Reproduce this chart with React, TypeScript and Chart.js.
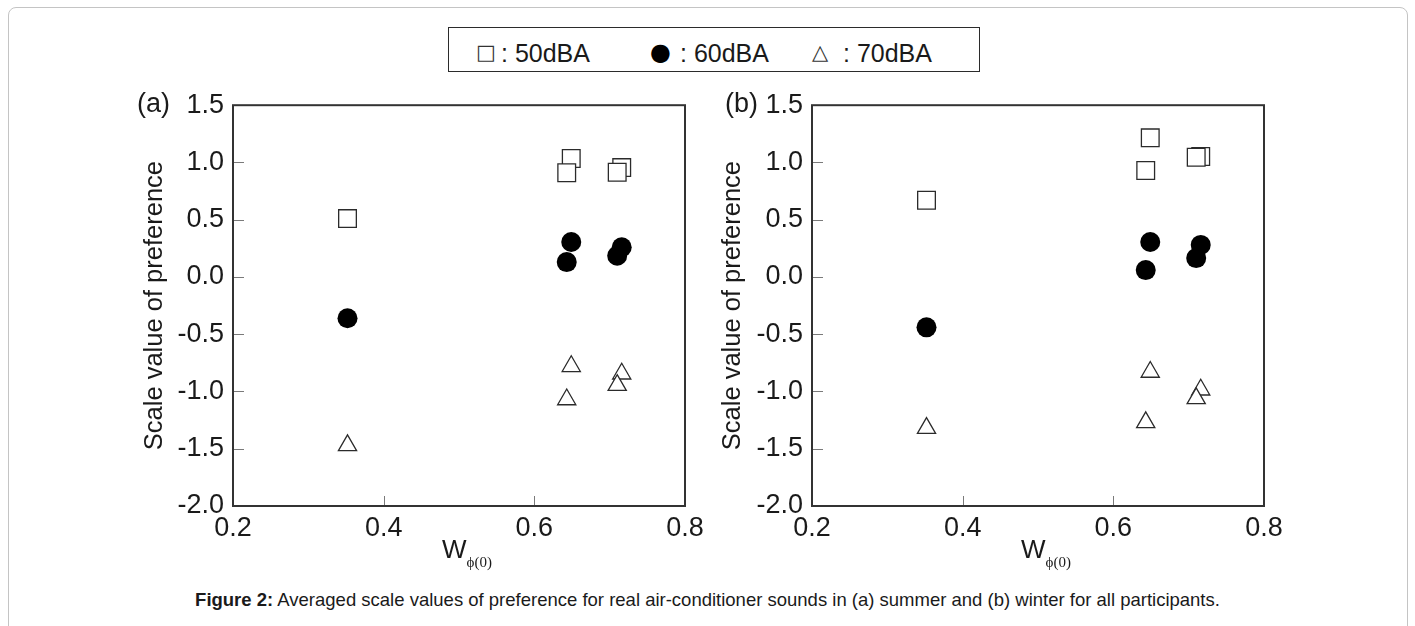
import React, { useEffect, useRef } from "react";
import { Chart, registerables } from "chart.js";

Chart.register(...registerables);

// W_phi(0) values of the five air-conditioner sounds
const wPhi = [0.352, 0.649, 0.643, 0.716, 0.71];

// (a) summer
const summer50 = [0.51, 1.035, 0.91, 0.955, 0.915];
const summer60 = [-0.36, 0.305, 0.13, 0.26, 0.185];
const summer70 = [-1.47, -0.78, -1.07, -0.845, -0.945];

// (b) winter
const winter50 = [0.67, 1.215, 0.93, 1.052, 1.045];
const winter60 = [-0.44, 0.305, 0.06, 0.28, 0.165];
const winter70 = [-1.32, -0.83, -1.27, -0.985, -1.06];

const xTickValues = [0.2, 0.4, 0.6, 0.8];
const yTickValues = [1.5, 1.0, 0.5, 0.0, -0.5, -1.0, -1.5, -2.0];
const legendLabels = ["50dBA", "60dBA", "70dBA"];
const legendGlyphs = ["□", "●", "△"];
const yTitle = "Scale value of preference";
const panelLabels = ["(a)", "(b)"];
const captionBold = "Figure 2:";
const captionText =
  " Averaged scale values of preference for real air-conditioner sounds in (a) summer and (b) winter for all participants.";

const SANS = "'Liberation Sans', Arial, Helvetica, sans-serif";
const SERIF = "'Liberation Serif', 'DejaVu Serif', 'Times New Roman', serif";
const TEXT = "#1a1a1a";
const AXIS = "#333333";

const framePlugin = {
  id: "frameAndInwardTicks",
  afterDraw(chart: any) {
    const { ctx, chartArea } = chart;
    const xs = chart.scales.x;
    const ys = chart.scales.y;
    ctx.save();
    // inward ticks
    ctx.strokeStyle = "#7a7a7a";
    ctx.lineWidth = 1;
    ctx.beginPath();
    for (const v of yTickValues) {
      if (v === ys.max || v === ys.min) continue;
      const py = Math.round(ys.getPixelForValue(v)) + 0.5;
      ctx.moveTo(chartArea.left, py);
      ctx.lineTo(chartArea.left + 11, py);
    }
    for (const v of xTickValues) {
      if (v === xs.max || v === xs.min) continue;
      const px = Math.round(xs.getPixelForValue(v)) + 0.5;
      ctx.moveTo(px, chartArea.bottom);
      ctx.lineTo(px, chartArea.bottom - 10);
    }
    ctx.stroke();
    // box
    ctx.strokeStyle = AXIS;
    ctx.lineWidth = 2;
    ctx.strokeRect(
      chartArea.left,
      chartArea.top,
      chartArea.right - chartArea.left,
      chartArea.bottom - chartArea.top
    );
    ctx.restore();
  },
};

type PanelProps = {
  s50: number[];
  s60: number[];
  s70: number[];
  left: number;
  yAxisWidth: number;
  rightPad: number;
  titlePad: number;
};

function Panel({ s50, s60, s70, left, yAxisWidth, rightPad, titlePad }: PanelProps) {
  const ref = useRef<HTMLCanvasElement>(null);
  useEffect(() => {
    const toPts = (ys: number[]) => wPhi.map((x, i) => ({ x, y: ys[i] }));
    const chart = new Chart(ref.current as HTMLCanvasElement, {
      type: "scatter",
      data: {
        datasets: [
          {
            label: legendLabels[0],
            data: toPts(s50),
            pointStyle: "rect",
            pointRadius: 12.5,
            backgroundColor: "#ffffff",
            borderColor: "#2b2b2b",
            borderWidth: 1.3,
          },
          {
            label: legendLabels[1],
            data: toPts(s60),
            pointStyle: "circle",
            pointRadius: 10,
            backgroundColor: "#000000",
            borderColor: "#000000",
            borderWidth: 0,
          },
          {
            label: legendLabels[2],
            data: toPts(s70),
            pointStyle: "triangle",
            pointRadius: 10.5,
            backgroundColor: "#ffffff",
            borderColor: "#2b2b2b",
            borderWidth: 1.3,
          },
        ],
      },
      options: {
        animation: false,
        responsive: false,
        events: [],
        layout: { padding: { top: 24, right: rightPad, left: 0, bottom: 0 } },
        plugins: { legend: { display: false }, tooltip: { enabled: false } },
        scales: {
          x: {
            type: "linear",
            min: 0.2,
            max: 0.8,
            grid: { display: false, drawTicks: false },
            border: { display: false },
            afterBuildTicks: (s: any) => {
              s.ticks = xTickValues.map((v) => ({ value: v }));
            },
            afterFit: (s: any) => {
              s.height = 74;
            },
            ticks: {
              padding: 6,
              autoSkip: false,
              maxRotation: 0,
              color: TEXT,
              font: { family: SANS, size: 27 },
              callback: (v: any) => Number(v).toFixed(1),
            },
          },
          y: {
            type: "linear",
            min: -2,
            max: 1.5,
            grid: { display: false, drawTicks: false },
            border: { display: false },
            afterBuildTicks: (s: any) => {
              s.ticks = yTickValues.map((v) => ({ value: v }));
            },
            afterFit: (s: any) => {
              s.width = yAxisWidth;
            },
            ticks: {
              padding: 9,
              autoSkip: false,
              color: TEXT,
              font: { family: SANS, size: 27 },
              callback: (v: any) => Number(v).toFixed(1),
            },
            title: {
              display: true,
              text: yTitle,
              color: TEXT,
              font: { family: SANS, size: 25.5 },
              padding: { top: titlePad, bottom: 0 },
            },
          },
        },
      },
      plugins: [framePlugin],
    } as any);
    return () => chart.destroy();
  }, []);
  return (
    <canvas
      ref={ref}
      width={600}
      height={500}
      style={{ position: "absolute", left, top: 80, width: 600, height: 500 }}
    />
  );
}

function XTitle({ left }: { left: number }) {
  return (
    <div
      style={{
        position: "absolute",
        left,
        top: 536,
        fontFamily: SANS,
        fontSize: 26,
        lineHeight: "26px",
        color: TEXT,
        whiteSpace: "nowrap",
      }}
    >
      W
      <span style={{ fontFamily: SERIF, fontSize: 15, position: "relative", top: 9 }}>
        ϕ(0)
      </span>
    </div>
  );
}

export default function App() {
  const abs = (extra: any) => ({ position: "absolute" as const, ...extra });
  return (
    <div style={{ position: "relative", width: 1415, height: 626, overflow: "hidden", background: "#fff" }}>
      <style>{`body{margin:0;background:#fff}`}</style>
      {/* outer frame */}
      <div
        style={abs({
          left: 8,
          top: 7,
          width: 1398,
          height: 640,
          border: "1px solid #c4c4c4",
          borderRadius: 8,
        })}
      />
      {/* legend box */}
      <div
        style={abs({
          left: 448,
          top: 27,
          width: 530,
          height: 43,
          border: "1.5px solid #2b2b2b",
        })}
      />
      <span style={abs({ left: 476, top: 40, fontFamily: "'DejaVu Sans'", fontSize: 21, lineHeight: "24px", color: "#333" })}>
        {legendGlyphs[0]}
      </span>
      <span style={abs({ left: 501, top: 41, fontFamily: SANS, fontSize: 25, lineHeight: "25px", color: TEXT, whiteSpace: "pre" })}>
        {": " + legendLabels[0]}
      </span>
      <span style={abs({ left: 650, top: 39, fontFamily: "'DejaVu Sans'", fontSize: 24, lineHeight: "26px", color: "#000" })}>
        {legendGlyphs[1]}
      </span>
      <span style={abs({ left: 680, top: 41, fontFamily: SANS, fontSize: 25, lineHeight: "25px", color: TEXT, whiteSpace: "pre" })}>
        {": " + legendLabels[1]}
      </span>
      <span style={abs({ left: 812, top: 40, fontFamily: "'DejaVu Sans'", fontSize: 21, lineHeight: "24px", color: "#333" })}>
        {legendGlyphs[2]}
      </span>
      <span style={abs({ left: 843, top: 41, fontFamily: SANS, fontSize: 25, lineHeight: "25px", color: TEXT, whiteSpace: "pre" })}>
        {": " + legendLabels[2]}
      </span>

      <Panel s50={summer50} s60={summer60} s70={summer70} left={120} yAxisWidth={113} rightPad={35} titlePad={20} />
      <Panel s50={winter50} s60={winter60} s70={winter70} left={700} yAxisWidth={112} rightPad={36} titlePad={18} />

      <span style={abs({ left: 137, top: 90, fontFamily: SANS, fontSize: 27, lineHeight: "27px", color: TEXT })}>
        {panelLabels[0]}
      </span>
      <span style={abs({ left: 725, top: 90, fontFamily: SANS, fontSize: 27, lineHeight: "27px", color: TEXT })}>
        {panelLabels[1]}
      </span>

      <XTitle left={442} />
      <XTitle left={1021} />

      <div
        style={abs({
          left: 0,
          top: 591,
          width: 1415,
          textAlign: "center",
          fontFamily: SANS,
          fontSize: 18.5,
          lineHeight: "18.5px",
          color: TEXT,
          whiteSpace: "nowrap",
        })}
      >
        <b>{captionBold}</b>
        {captionText}
      </div>
    </div>
  );
}
